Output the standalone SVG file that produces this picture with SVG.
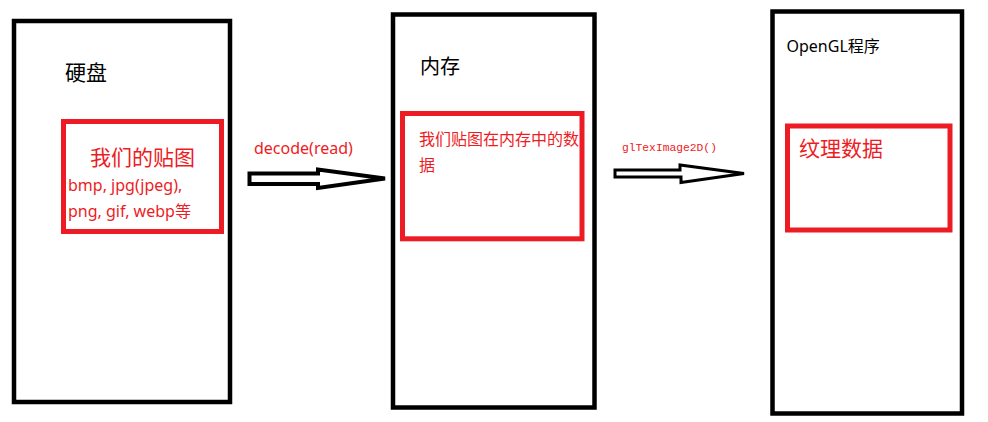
<svg xmlns="http://www.w3.org/2000/svg" width="988" height="422" viewBox="0 0 988 422">
<style>
.box{fill:none;stroke:#000;stroke-width:4.5}
.inner{fill:none;stroke:#ED1C24;stroke-width:5}
.t{font-family:"Noto Sans","Noto Sans CJK SC",sans-serif}
.blk{fill:#000}
.red{fill:#ED1C24}
.mono{font-family:"Liberation Mono",monospace;font-size:11.3px;fill:#ED1C24}
.arrow{fill:#fff;stroke:#000;stroke-linejoin:miter}
</style>
<rect width="988" height="422" fill="#fff"/>
<g id="disk">
<rect class="box" x="14" y="21" width="216" height="381"/>
<text class="t blk" x="65" y="80" font-size="21">硬盘</text>
</g>
<g id="disk-texture">
<rect class="inner" x="63.5" y="121.5" width="158" height="110"/>
<text class="t red" x="90" y="165" font-size="21">我们的贴图</text>
<text class="t red" x="68" y="190.5" font-size="16">bmp, jpg(jpeg),</text>
<text class="t red" x="68" y="217" font-size="16">png, gif, webp等</text>
</g>
<g id="memory">
<rect class="box" x="393" y="14.5" width="201.5" height="393"/>
<text class="t blk" x="420" y="73.5" font-size="20">内存</text>
</g>
<g id="memory-data">
<rect class="inner" x="402.5" y="113.5" width="179.5" height="125.3"/>
<text class="t red" x="419" y="144.5" font-size="16">我们贴图在内存中的数</text>
<text class="t red" x="419" y="171" font-size="16">据</text>
</g>
<g id="opengl">
<rect class="box" x="772.5" y="11.5" width="189.5" height="402"/>
<text class="t blk" x="786.5" y="52" font-size="16">OpenGL程序</text>
</g>
<g id="texture-data">
<rect class="inner" x="787.5" y="126" width="162.5" height="104"/>
<text class="t red" x="799" y="156" font-size="21">纹理数据</text>
</g>
<g id="connectors">
<polygon class="arrow" stroke-width="4" points="249.5,173.5 318,173.5 318,169.5 385,178.5 318,188 318,184 249.5,184"/>
<text class="t red" x="254" y="153.5" font-size="16">decode(read)</text>
<polygon class="arrow" stroke-width="3" points="615,170 680,170 680,165 744,173.5 681,182.5 681,177 615,177"/>
<text class="mono" x="622" y="151">glTexImage2D()</text>
</g>
</svg>
